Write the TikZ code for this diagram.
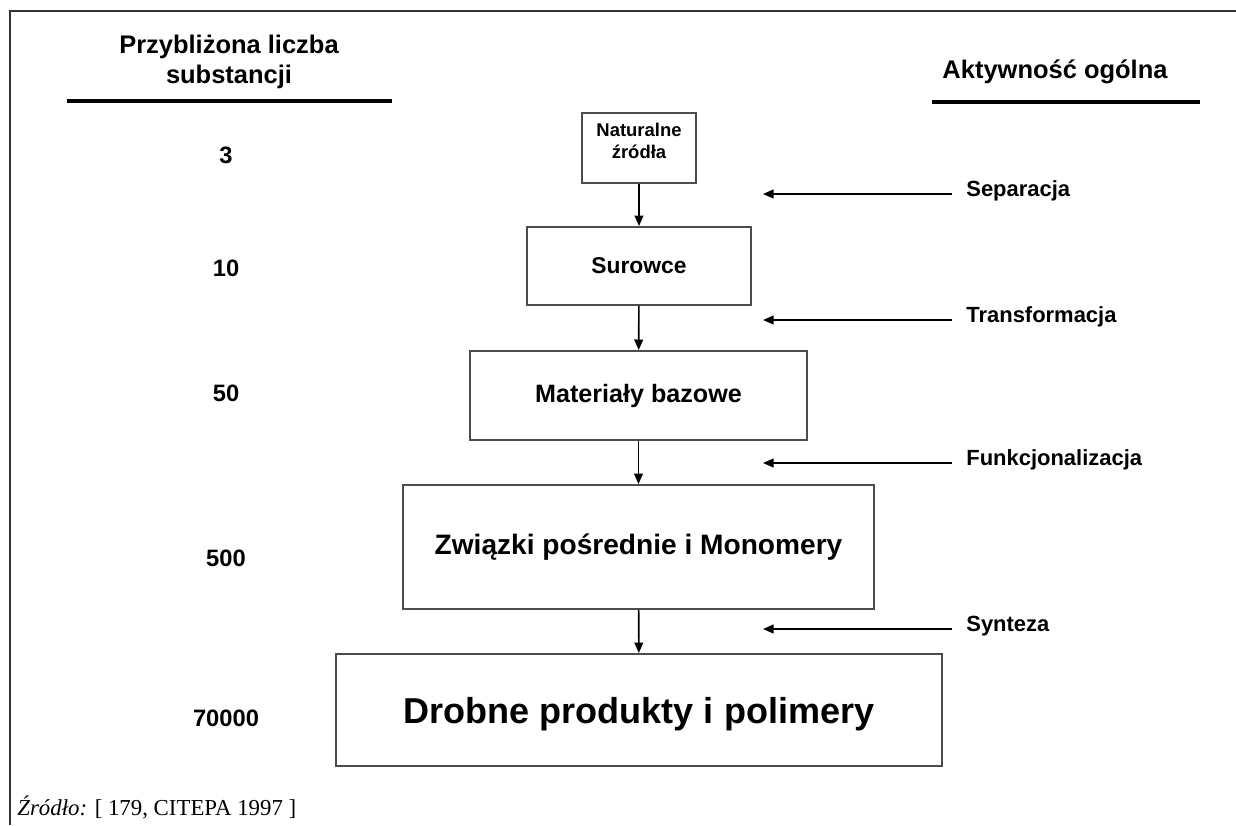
\documentclass[tikz,border=0pt]{standalone}
\usepackage{fontspec}
\setmainfont{Liberation Sans}
\newfontfamily\srcfont{Liberation Serif}
\usepackage{tikz}
\usetikzlibrary{arrows.meta, positioning}

\newcommand{\fsz}[1]{\fontsize{#1}{1.2\dimexpr#1pt\relax}\selectfont}

\begin{document}
\begin{tikzpicture}[
  x=0.02cm, y=-0.02cm,
  >={Triangle[length=6pt, width=5pt]},
  stage/.style={draw=gray!60!black, line width=1.1pt, align=center,
                inner sep=0pt, font=\bfseries},
  head/.style={align=center, font=\bfseries\fsz{14.5}},
  num/.style={font=\bfseries\fsz{13.5}},
  act/.style={anchor=west, inner xsep=0pt, font=\bfseries\fsz{12.5}},
  flow/.style={->, line width=0.9pt},
  rule/.style={line width=1.8pt},
]
  \useasboundingbox (0,0) rectangle (1236,825);
  % --- frame (cut at right and bottom) ----------------------------
  \draw[gray!40!black, line width=1.4pt] (10,825) -- (10,11) -- (1236,11);

  % --- column heads -----------------------------------------------
  \node[head] (hleft) at (229,62) {Przybliżona liczba\\substancji};
  \node[head] (hright) at (1055,72) {Aktywność ogólna};
  \draw[rule] (67,101) -- (392,101);
  \draw[rule] (932,102) -- (1200,102);

  % --- stages -----------------------------------------------------
  \node[stage, minimum width=2.28cm, minimum height=1.4cm, font=\bfseries\fsz{10.5}]
    (nat) at (639,148) {Naturalne\\źródła\\[-4.5pt]};
  \node[stage, minimum width=4.48cm, minimum height=1.56cm, font=\bfseries\fsz{13}]
    (sur) at (639,266) {Surowce};
  \node[stage, minimum width=6.74cm, minimum height=1.78cm, font=\bfseries\fsz{14.3}]
    (mat) at (638.5,395.5) {Materiały bazowe};
  \node[stage, minimum width=9.42cm, minimum height=2.48cm, font=\bfseries\fsz{16}]
    (zw) at (638.5,547) {Związki pośrednie i Monomery};
  \node[stage, minimum width=12.12cm, minimum height=2.24cm, font=\bfseries\fsz{20.5},
        text height=21pt, text depth=6pt]
    (drob) at (639,710) {Drobne produkty i polimery};

  \draw[flow] (nat) -- (sur);
  \draw[flow] (sur) -- (mat);
  \draw[flow] (mat) -- (zw);
  \draw[flow] (zw) -- (drob);

  % --- amounts ----------------------------------------------------
  \node[num] (n1) at (226,155) {3};
  \node[num] (n2) at (226,268) {10};
  \node[num] (n3) at (226,393) {50};
  \node[num] (n4) at (226,558) {500};
  \node[num] (n5) at (226,718) {70000};

  % --- activities -------------------------------------------------
  \node[act] (a1) at (966,191) {Separacja};
  \node[act] (a2) at (966,317) {Transformacja};
  \node[act] (a3) at (966,460) {Funkcjonalizacja};
  \node[act] (a4) at (966,626) {Synteza};
  \coordinate (t1) at (763,194);
  \coordinate (t2) at (763,320);
  \coordinate (t3) at (763,463);
  \coordinate (t4) at (763,629);
  \draw[flow] ([xshift=-14*0.02cm]a1.west |- t1) -- (t1);
  \draw[flow] ([xshift=-14*0.02cm]a2.west |- t2) -- (t2);
  \draw[flow] ([xshift=-14*0.02cm]a3.west |- t3) -- (t3);
  \draw[flow] ([xshift=-14*0.02cm]a4.west |- t4) -- (t4);

  % --- source -----------------------------------------------------
  \node[anchor=west, inner sep=0pt, font=\srcfont\fsz{13}] (src) at (17,807)
    {\textit{Źródło:} [ 179, CITEPA 1997 ]};
\end{tikzpicture}
\end{document}
